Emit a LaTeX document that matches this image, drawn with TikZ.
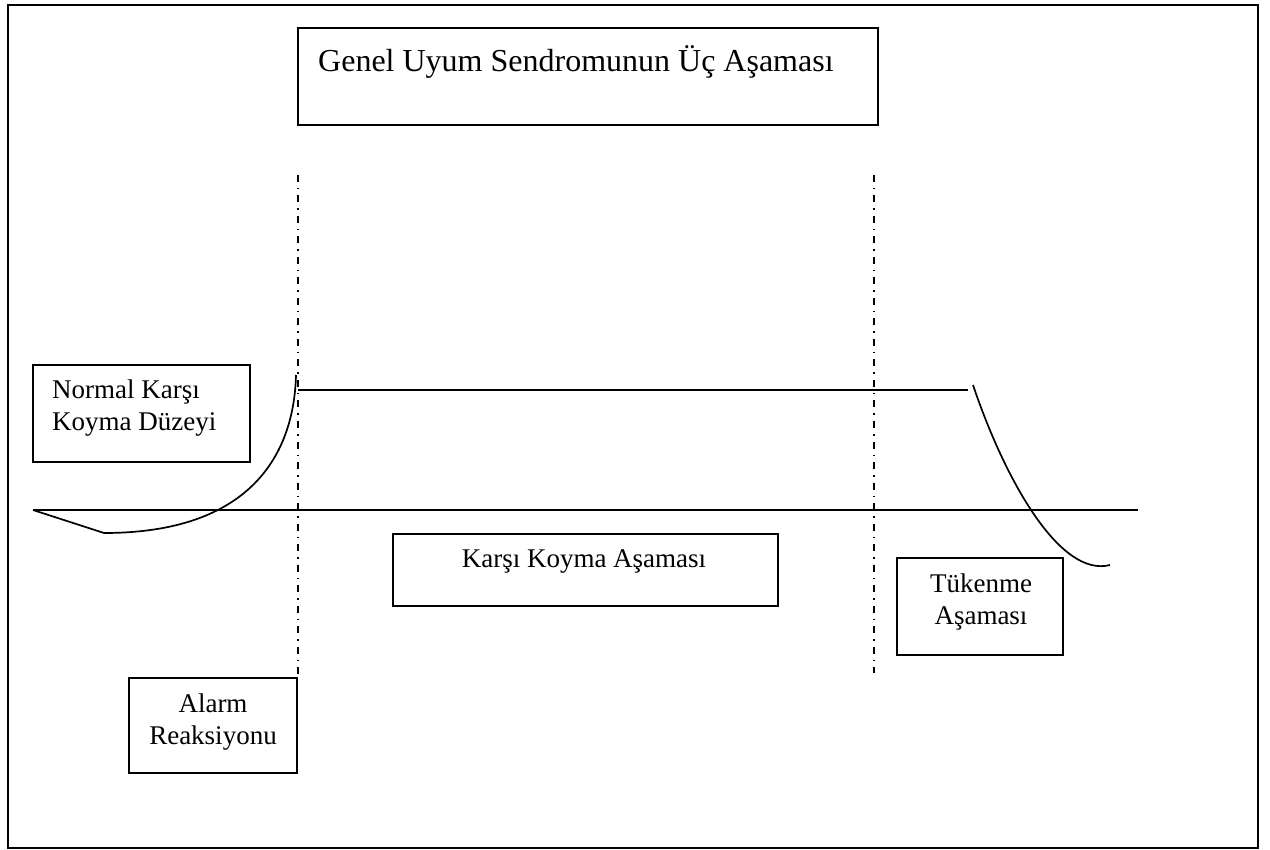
\documentclass[tikz,border=0pt]{standalone}
\usepackage{fontspec}
\setmainfont{Liberation Serif}
\begin{document}
\begin{tikzpicture}[x=1pt,y=-1pt,
  frame/.style={draw=black,line width=2.2pt},
  box/.style={draw=black,line width=1.8pt,rectangle,inner sep=0pt},
  lbl/.style={inner sep=0pt,font=\fontsize{27}{32}\selectfont},
  ttl/.style={inner sep=0pt,font=\fontsize{32}{36}\selectfont},
  curve/.style={draw=black,line width=1.7pt},
  phase/.style={draw=black,line width=1.8pt,dash pattern=on 7pt off 6pt on 1.5pt off 6pt}]
\useasboundingbox (0,0) rectangle (1270,850);
\draw[frame] (8,5) rectangle (1258,848);
% boxes
\node[box,minimum width=580pt,minimum height=97pt] (title) at (588,76.5) {};
\node[box,minimum width=217pt,minimum height=97pt] (normal) at (141.5,413.5) {};
\node[box,minimum width=385pt,minimum height=72pt] (karsi) at (585.5,570) {};
\node[box,minimum width=166pt,minimum height=97pt] (tuk) at (980,606.5) {};
\node[box,minimum width=168pt,minimum height=95pt] (alarm) at (213,725.5) {};
% texts
\node[ttl,anchor=base west] (titletxt) at (318,72) {Genel Uyum Sendromunun Üç Aşaması};
\node[lbl,anchor=west,align=left] (normaltxt) at (52,408) {Normal Karşı\\Koyma Düzeyi};
\node[lbl] (karsitxt) at (584,561) {Karşı Koyma Aşaması};
\node[lbl,align=center] (tuktxt) at (981,602) {Tükenme\\Aşaması};
\node[lbl,align=center] (alarmtxt) at (213,722) {Alarm\\Reaksiyonu};
% coordinates
\coordinate (p1top) at (298,175);
\coordinate (p1bot) at (298,678);
\coordinate (p2top) at (874,175);
\coordinate (p2bot) at (874,673);
\coordinate (baseL) at (33,510);
\coordinate (baseR) at (1138,510);
\coordinate (dipL) at (104,533);
\coordinate (riseTop) at (296,375);
\coordinate (levL) at (298,390);
\coordinate (levR) at (968,390);
\coordinate (fallTop) at (973,385);
\coordinate (fallBot) at (1110,565);
% phase separators
\draw[phase] (p1top) -- (p1bot);
\draw[phase] (p2top) -- (p2bot);
% baseline and resistance level
\draw[curve] (baseL) -- (baseR);
\draw[curve] (levL) -- (levR);
% alarm reaction curve
\draw[curve] (baseL) -- (dipL) .. controls (250,533) and (294,455) .. (riseTop);
% exhaustion curve
\draw[curve] (fallTop) .. controls (1005,480) and (1060,578) .. (fallBot);
\end{tikzpicture}
\end{document}
